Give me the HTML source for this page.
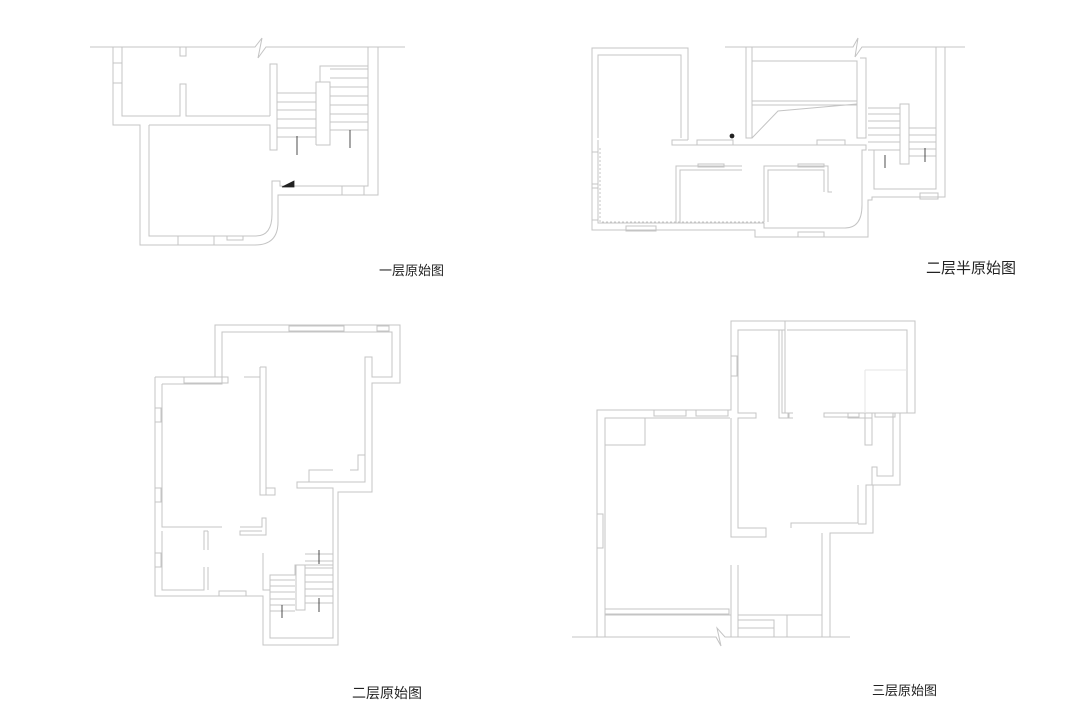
<!DOCTYPE html>
<html><head><meta charset="utf-8"><style>
body{margin:0;background:#fff;width:1080px;height:720px;overflow:hidden;position:relative}
svg{position:absolute;left:0;top:0}
.l{position:absolute;font-family:"Liberation Sans","Noto Sans CJK SC",sans-serif;color:#222;white-space:nowrap}
</style></head><body>
<svg width="1080" height="720" viewBox="0 0 1080 720">
<g fill="none" stroke="#c4c4c4" stroke-width="1">
<!-- Plan 1 -->
<polyline points="90,47 255,47 262,38 258,58 266,47 405,47"/>
<path d="M113,47 L113,125 140,125 140,245 255,245 Q278,245 278,222 L278,195 378,195 378,47"/>
<polyline points="122,47 122,116 180,116 180,84 186,84 186,116 270,116"/>
<polyline points="186,47 186,56 180,56 180,47"/>
<path d="M149,125 L149,236 256,236 Q272,236 272,214 L272,181 280,181 280,186 368,186 368,47"/>
<polyline points="149,125 270,125 270,150 277,150 277,64 270,64 270,116"/>
<polyline points="316,145 330,145 330,82 316,82 316,145"/>
<line x1="277" y1="93" x2="316" y2="93"/><line x1="277" y1="102" x2="316" y2="102"/><line x1="277" y1="110" x2="316" y2="110"/><line x1="277" y1="119" x2="316" y2="119"/><line x1="277" y1="128" x2="316" y2="128"/><line x1="277" y1="137" x2="316" y2="137"/>
<line x1="330" y1="69" x2="368" y2="69"/><line x1="330" y1="78" x2="368" y2="78"/><line x1="330" y1="87" x2="368" y2="87"/><line x1="330" y1="96" x2="368" y2="96"/><line x1="330" y1="105" x2="368" y2="105"/><line x1="330" y1="114" x2="368" y2="114"/><line x1="330" y1="122" x2="368" y2="122"/><line x1="330" y1="130" x2="368" y2="130"/>
<polyline points="320,82 320,66 368,66"/>
<rect x="113" y="63" width="9" height="20"/><rect x="178" y="236" width="36" height="9"/><rect x="342" y="186" width="22" height="9"/><rect x="227" y="236" width="16" height="4"/>
<!-- Plan 2.5 -->
<polyline points="725,47 853,47 858,38 855,57 862,47 965,47"/>
<polyline points="592,140 592,48 688,48 688,140"/>
<polyline points="598,138 598,55 681,55 681,138"/>
<polyline points="746,47 746,138 752,138 752,47"/>
<polyline points="752,61 857,61 857,138 866,138 866,58 860,58"/>
<polyline points="752,101 857,101"/><polyline points="752,105 857,105"/>
<polyline points="752,138 778,111 857,104"/>
<polyline points="592,140 592,230 755,230 755,237 868,237 868,200 872,200 872,197 945,197 945,47"/>
<path d="M598,140 L598,223 764,223 764,228 845,228 Q862,228 862,205 L862,150 866,150 866,145 672,145 672,140 688,140"/>
<polyline points="936,47 936,189 874,189 874,150"/>
<polyline points="676,223 676,166 742,166"/><polyline points="680,223 680,170 742,170"/>
<polyline points="764,222 764,166 828,166 828,192 832,192"/><polyline points="768,222 768,170 824,170 824,192"/>
<polyline points="600,148 600,222 764,222" stroke-dasharray="2,2"/>
<line x1="868" y1="108" x2="900" y2="108"/><line x1="868" y1="114" x2="900" y2="114"/><line x1="868" y1="121" x2="900" y2="121"/><line x1="868" y1="128" x2="900" y2="128"/><line x1="868" y1="135" x2="900" y2="135"/><line x1="868" y1="142" x2="900" y2="142"/><line x1="868" y1="150" x2="900" y2="150"/>
<rect x="900" y="104" width="9" height="60"/>
<line x1="909" y1="128" x2="936" y2="128"/><line x1="909" y1="135" x2="936" y2="135"/><line x1="909" y1="142" x2="936" y2="142"/><line x1="909" y1="149" x2="936" y2="149"/><line x1="909" y1="156" x2="936" y2="156"/>
<rect x="592" y="152" width="6" height="32"/><rect x="592" y="188" width="6" height="32"/><rect x="626" y="226" width="30" height="5"/><rect x="697" y="140" width="36" height="5"/><rect x="817" y="140" width="28" height="5"/><rect x="698" y="164" width="26" height="3"/><rect x="798" y="164" width="26" height="3"/><rect x="798" y="232" width="26" height="5"/><rect x="920" y="193" width="18" height="6"/>
<!-- Plan 2 -->
<polyline points="155,377 215,377 215,325 400,325 400,383 372,383 372,492 338,492 338,645 263,645 263,596 155,596 155,377"/>
<polyline points="162,384 222,384 222,332 392,332 392,377 373,377 372,377 372,357 365,357 365,482 297,482 297,488 333,488 333,638 270,638 270,590 263,590 263,553"/>
<polyline points="162,384 162,527 222,527"/><polyline points="162,531 162,590 204,590 204,567"/><polyline points="204,550 204,531 208,531"/>
<polyline points="240,527 262,527 262,518 266,518 266,535 240,535 240,531 262,531"/>
<polyline points="208,590 208,567"/><polyline points="208,531 208,550"/>
<polyline points="260,367 260,495 266,495 266,367 260,367"/><polyline points="244,377 260,377"/><polyline points="266,488 275,488 275,495 266,495"/>
<polyline points="309,482 309,470 333,470"/><polyline points="350,470 358,470 358,455 365,455"/><polyline points="270,596 270,575 295,575 295,565 333,565"/>
<line x1="270" y1="580" x2="295" y2="580"/><line x1="270" y1="586" x2="295" y2="586"/><line x1="270" y1="592" x2="295" y2="592"/><line x1="270" y1="599" x2="295" y2="599"/><line x1="270" y1="605" x2="295" y2="605"/><line x1="270" y1="611" x2="295" y2="611"/>
<rect x="296" y="565" width="9" height="45"/>
<line x1="305" y1="554" x2="333" y2="554"/><line x1="305" y1="561" x2="333" y2="561"/><line x1="305" y1="568" x2="333" y2="568"/><line x1="305" y1="575" x2="333" y2="575"/><line x1="305" y1="582" x2="333" y2="582"/><line x1="305" y1="589" x2="333" y2="589"/><line x1="305" y1="596" x2="333" y2="596"/><line x1="305" y1="603" x2="333" y2="603"/>
<rect x="184" y="377" width="44" height="6"/><rect x="289" y="326" width="55" height="5"/><rect x="377" y="326" width="12" height="5"/><rect x="155" y="408" width="6" height="14"/><rect x="155" y="488" width="6" height="14"/><rect x="155" y="553" width="6" height="14"/><rect x="219" y="591" width="27" height="5"/>
<!-- Plan 3 -->
<polyline points="572,637 716,637 721,646 717,628 725,637 850,637"/>
<polyline points="597,637 597,410 731,410 731,321 915,321 915,413 900,413 900,485 873,485 873,533 830,533 830,637"/>
<polyline points="605,637 605,418 730,418"/><polyline points="605,418 645,418 645,445 605,445"/>
<polyline points="731,418 731,537 766,537 766,528 738,528 738,418 756,418 756,413 738,413 738,330 782,330 782,413 789,413 789,418 779,418 779,330 785,330 785,321"/>
<polyline points="787,330 907,330 907,413 848,413 848,418 872,418"/>
<polyline points="793,413 788,413 788,418 793,418"/><polyline points="785,330 785,413"/>
<polyline points="865,413 865,445 872,445 872,413"/><polyline points="873,413 893,413 893,476 877,476 877,467 872,467 872,485 866,485 866,524 858,524"/>
<polyline points="791,528 791,523 858,523 858,485"/><polyline points="822,637 822,533"/>
<polyline points="731,565 731,637"/><polyline points="738,565 738,637"/>
<polyline points="738,620 774,620 774,637"/><polyline points="738,615 822,615"/><line x1="787" y1="615" x2="787" y2="637"/><line x1="738" y1="628" x2="774" y2="628"/>
<line x1="605" y1="615" x2="731" y2="615"/>
<rect x="654" y="410" width="32" height="6"/><rect x="696" y="410" width="32" height="6"/><rect x="597" y="514" width="6" height="34"/><rect x="605" y="609" width="124" height="5"/><rect x="824" y="413" width="35" height="4"/><rect x="875" y="413" width="20" height="4"/><rect x="731" y="356" width="6" height="20"/>
<line x1="865" y1="370" x2="907" y2="370" stroke="#e6e6e6"/><line x1="865" y1="370" x2="865" y2="413" stroke="#e6e6e6"/>
</g>
<g stroke="#222" fill="#222" stroke-width="0.8">
<line x1="297" y1="136" x2="297" y2="155"/><line x1="350" y1="130" x2="350" y2="148"/>
<line x1="885" y1="155" x2="885" y2="168"/><line x1="925" y1="148" x2="925" y2="162"/>
<line x1="282" y1="605" x2="282" y2="618"/><line x1="319" y1="550" x2="319" y2="564"/><line x1="319" y1="598" x2="319" y2="612"/>
<polygon points="282,187 294,181 294,187"/><circle cx="732" cy="136" r="2"/>
</g>
</svg>
<div class="l" style="left:379px;top:260px;font-size:13px">一层原始图</div>
<div class="l" style="left:926px;top:257px;font-size:15px">二层半原始图</div>
<div class="l" style="left:352px;top:683px;font-size:14px">二层原始图</div>
<div class="l" style="left:872px;top:680px;font-size:13px">三层原始图</div>
</body></html>
